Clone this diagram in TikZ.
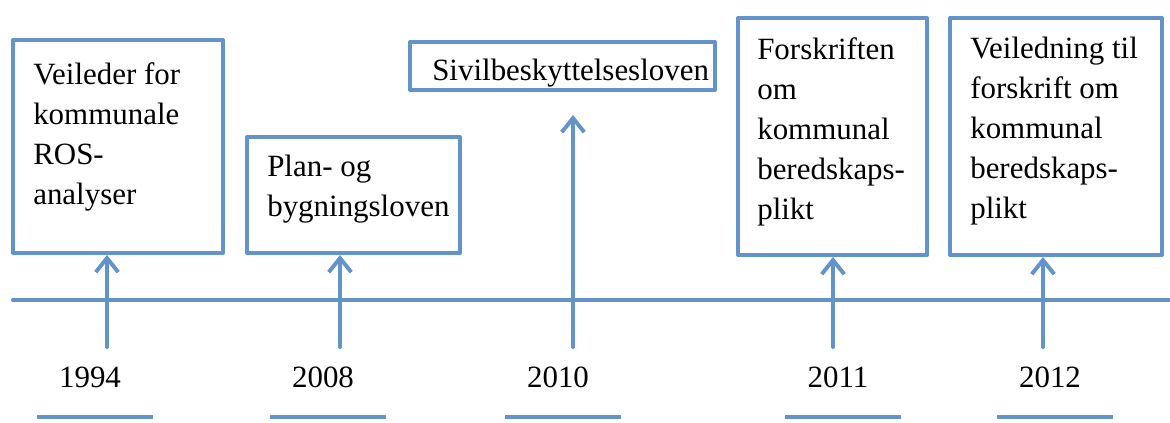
\documentclass[tikz,border=0pt]{standalone}
\usepackage{fontspec}
\setmainfont{Liberation Serif}
\usetikzlibrary{arrows.meta,fit,calc}
\definecolor{tlblue}{RGB}{98,147,202}
\tikzset{
  tlline/.style={draw=tlblue, line width=2.8pt},
  eventbox/.style={tlline, rectangle, inner sep=0pt},
  eventtext/.style={anchor=north west, align=left, inner sep=0pt, font=\fontsize{22}{28.45}\selectfont},
  yeartext/.style={inner sep=0pt, font=\fontsize{22}{26}\selectfont},
  uparrow/.style={tlline, -{Straight Barb[length=10pt,width=16pt]}},
}
\begin{document}
\begin{tikzpicture}[x=0.025cm, y=-0.025cm, line join=round, line cap=round]
	\useasboundingbox (0,0) rectangle (1170,422);
	% boxes
	\node[eventbox, fit={(13,40) (223,253)}] (b1) {};
	\node[eventbox, fit={(247,137) (460,253)}] (b2) {};
	\node[eventbox, fit={(410,42) (715,90)}] (b3) {};
	\node[eventbox, fit={(738,18) (927,255)}] (b4) {};
	\node[eventbox, fit={(950,18) (1162,255)}] (b5) {};
	\node[eventtext] (t1) at (33,62) {Veileder for\\kommunale\\ROS-\\analyser};
	\node[eventtext] (t2) at (267,155) {Plan- og\\bygningsloven};
	\node[eventtext] (t3) at (432,59) {Sivilbeskyttelsesloven};
	\node[eventtext] (t4) at (757,37) {Forskriften\\om\\kommunal\\beredskaps-\\plikt};
	\node[eventtext] (t5) at (970,37) {Veiledning til\\forskrift om\\kommunal\\beredskaps-\\plikt};
	% tidslinje
	\coordinate (tlstart) at (13,300);
	\coordinate (tlend) at (1172,300);
	\draw[tlline] (tlstart) -- (tlend);
	\coordinate (a1) at (107,347);
	\coordinate (a2) at (340,347);
	\coordinate (a3) at (573,347);
	\coordinate (a3top) at (573,115);
	\coordinate (a4) at (833,347);
	\coordinate (a5) at (1043,347);
	\draw[uparrow] (a1) -- (a1 |- b1.south);
	\draw[uparrow] (a2) -- (a2 |- b2.south);
	\draw[uparrow] (a3) -- (a3top);
	\draw[uparrow] (a4) -- (a4 |- b4.south);
	\draw[uparrow] (a5) -- (a5 |- b5.south);
	% år
	\foreach \yr/\x in {1994/90, 2008/323, 2010/558, 2011/838, 2012/1050}{
		\node[yeartext] (y\yr) at (\x,377) {\yr};
		\draw[tlline, line cap=butt] ($(y\yr)+(-53,40)$) -- ($(y\yr)+(63,40)$);
	}
\end{tikzpicture}
\end{document}
